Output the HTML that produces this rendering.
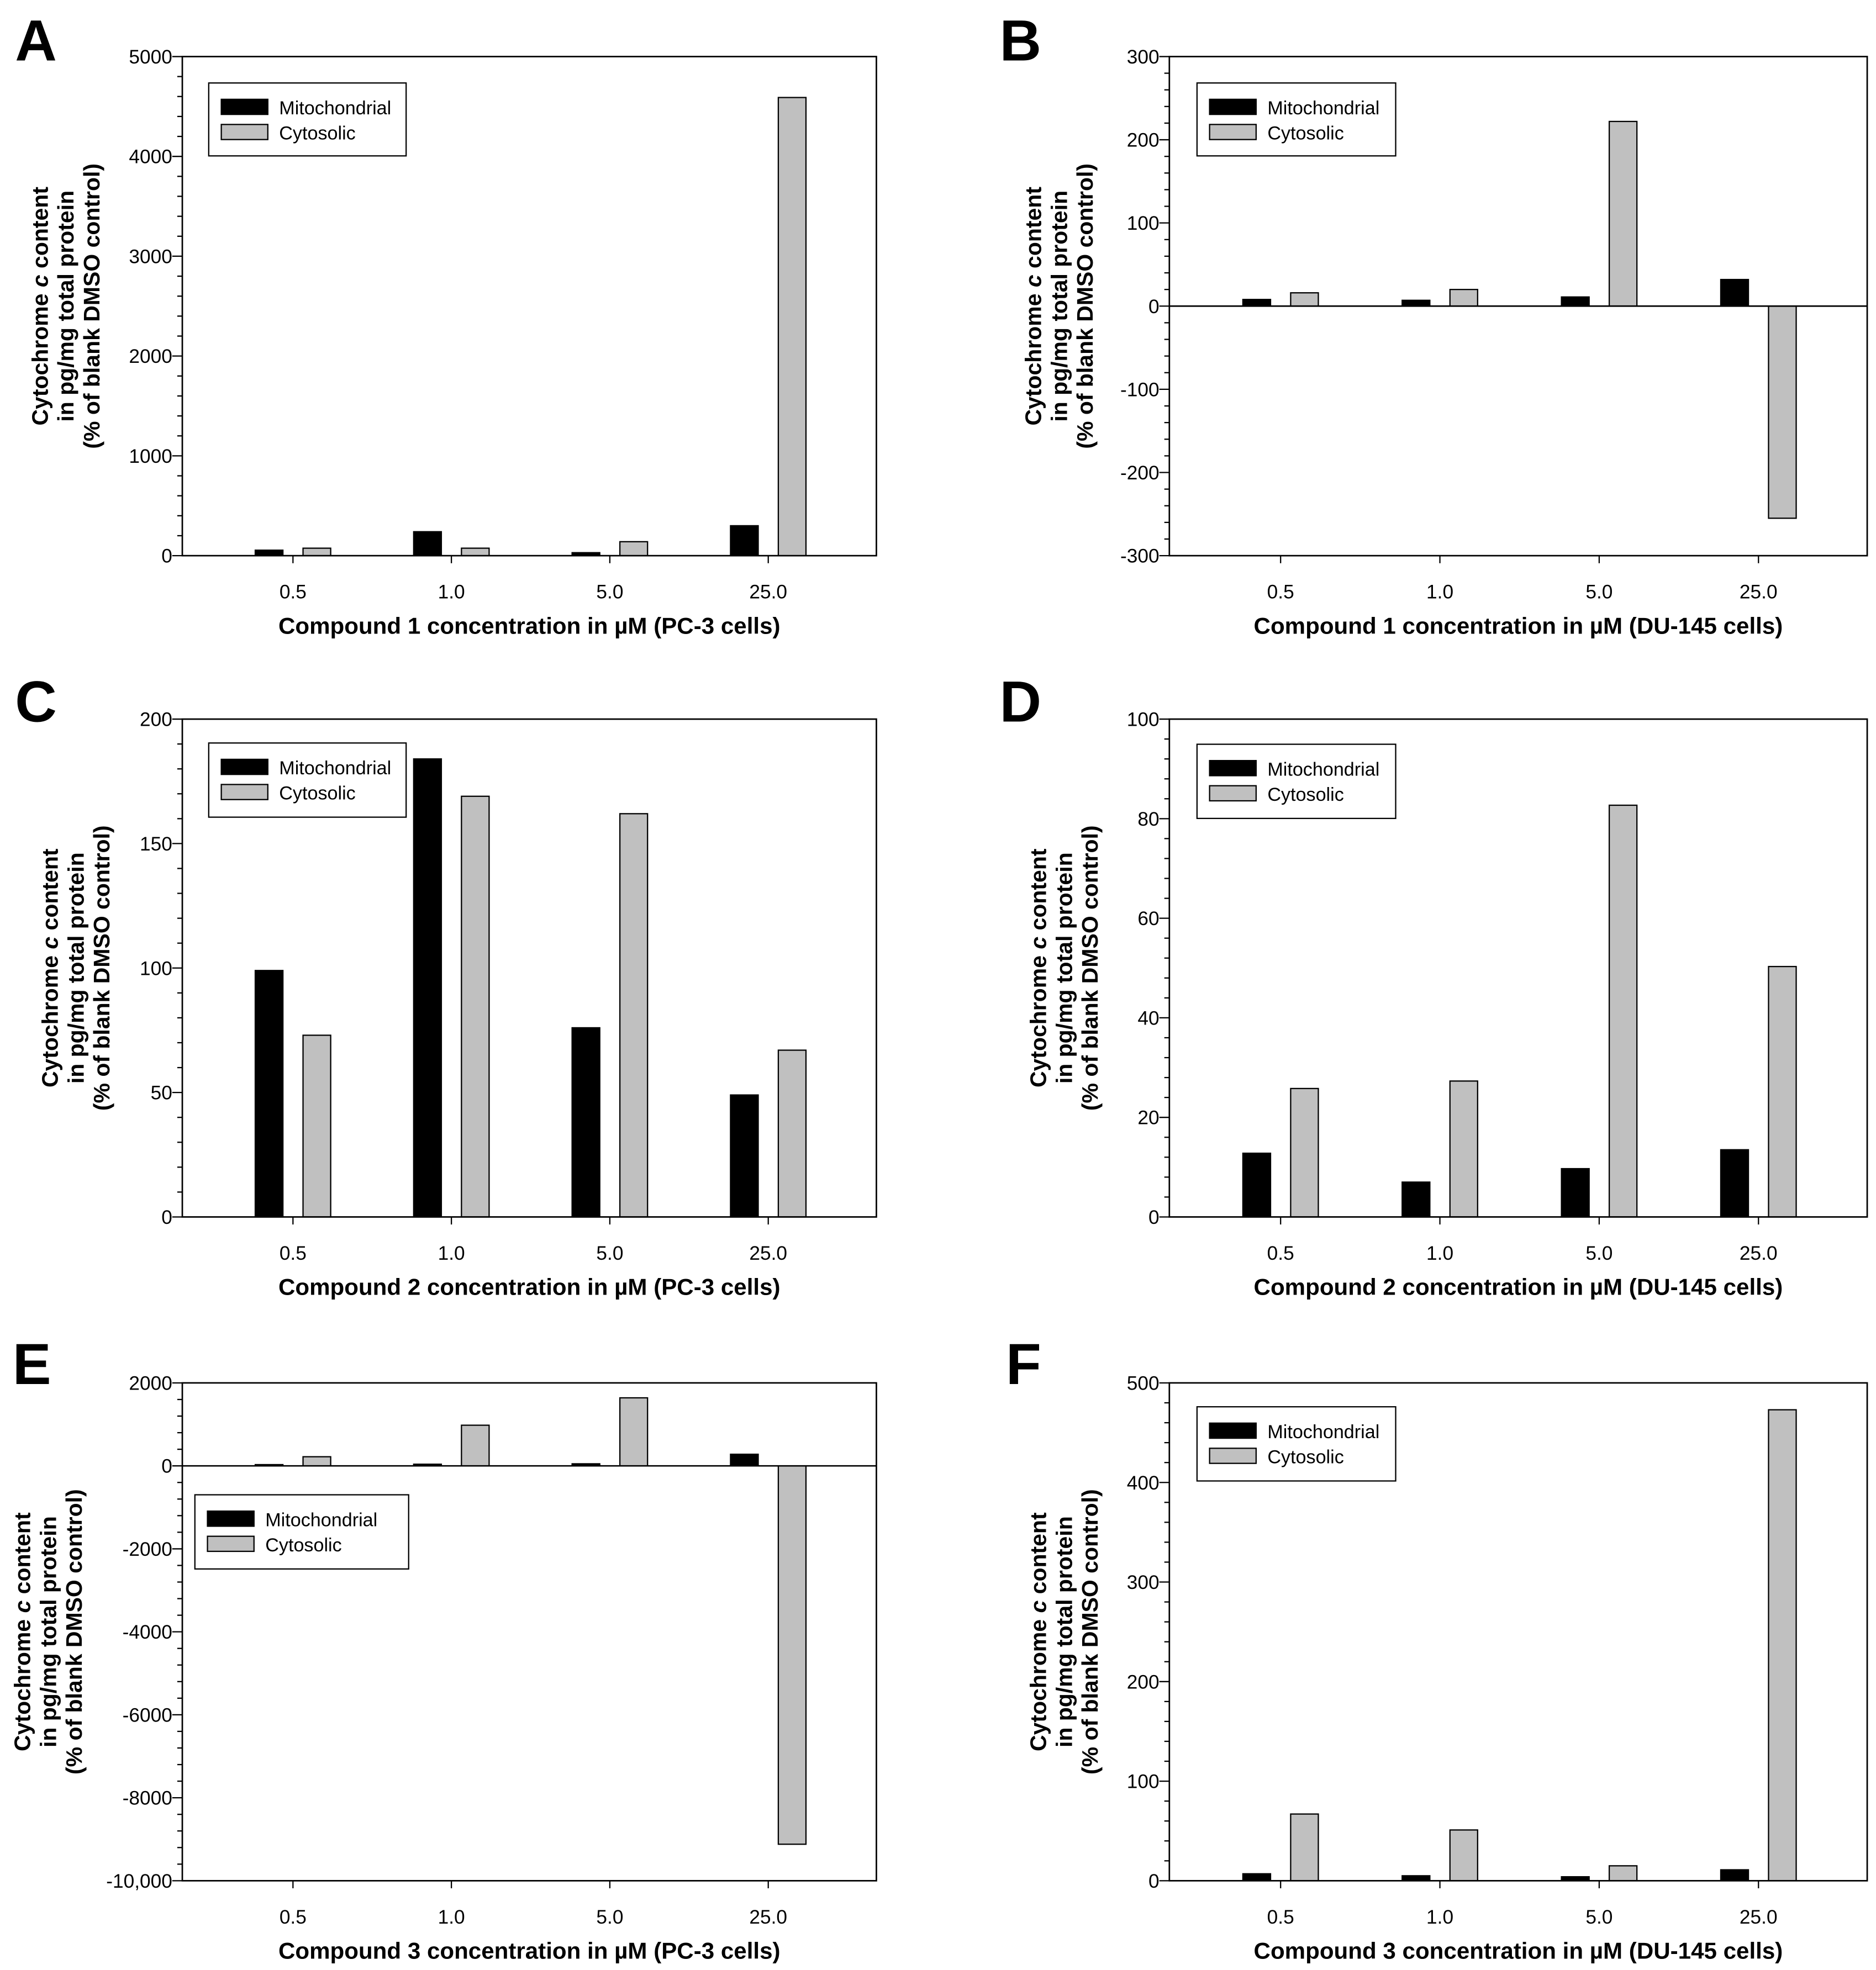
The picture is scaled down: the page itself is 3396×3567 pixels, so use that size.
<!DOCTYPE html>
<html><head><meta charset="utf-8"><style>
html,body{margin:0;padding:0;background:#fff}
svg{display:block}
text{font-family:"Liberation Sans",sans-serif}
</style></head><body>
<svg id="fig" width="3396" height="3567" viewBox="0 0 1492 1567" preserveAspectRatio="none" xmlns="http://www.w3.org/2000/svg"></svg>
<script>
const categories = ["0.5","1.0","5.0","25.0"];
const mitoA = [55,240,30,300];
const cytoA = [75,75,140,4590];
const mitoB = [8,7,11,32];
const cytoB = [16,20,222,-255];
const mitoC = [99,184,76,49];
const cytoC = [73,169,162,67];
const mitoD = [12.8,7,9.7,13.5];
const cytoD = [25.8,27.3,82.7,50.3];
const mitoE = [30,40,50,280];
const cytoE = [220,980,1640,-9120];
const mitoF = [7,5,4,11];
const cytoF = [67,51,15,473];
const ticksA = [0,1000,2000,3000,4000,5000];
const ticksB = [-300,-200,-100,0,100,200,300];
const ticksC = [0,50,100,150,200];
const ticksD = [0,20,40,60,80,100];
const ticksE = [-10000,-8000,-6000,-4000,-2000,0,2000];
const ticksF = [0,100,200,300,400,500];
const tickLabelsE = ["-10,000","-8000","-6000","-4000","-2000","0","2000"];

const NS="http://www.w3.org/2000/svg";
const svg=document.getElementById('fig');
function mk(tag,attrs,parent,txt){const e=document.createElementNS(NS,tag);for(const k in attrs)e.setAttribute(k,attrs[k]);if(txt!==undefined)e.textContent=txt;(parent||svg).appendChild(e);return e;}

const panels=[
 {id:'a',letter:'A',lx:12,ly:48,x0:145,x1:697,y0:45,y1:442,ticks:ticksA,mito:mitoA,cyto:cytoA,leg:[166,66,157,58],ylx:32,title:'Compound 1 concentration in µM (PC-3 cells)'},
 {id:'b',letter:'B',lx:795,ly:48,x0:930,x1:1485,y0:45,y1:442,ticks:ticksB,mito:mitoB,cyto:cytoB,leg:[952,66,158,58],ylx:822,title:'Compound 1 concentration in µM (DU-145 cells)'},
 {id:'c',letter:'C',lx:12,ly:574,x0:145,x1:697,y0:572,y1:968,ticks:ticksC,mito:mitoC,cyto:cytoC,leg:[166,591,157,59],ylx:40,title:'Compound 2 concentration in µM (PC-3 cells)'},
 {id:'d',letter:'D',lx:795,ly:574,x0:930,x1:1485,y0:572,y1:968,ticks:ticksD,mito:mitoD,cyto:cytoD,leg:[952,592,158,59],ylx:826,title:'Compound 2 concentration in µM (DU-145 cells)'},
 {id:'e',letter:'E',lx:10,ly:1101,x0:145,x1:697,y0:1100,y1:1496,ticks:ticksE,labels:tickLabelsE,mito:mitoE,cyto:cytoE,leg:[155,1189,170,59],ylx:18,title:'Compound 3 concentration in µM (PC-3 cells)'},
 {id:'f',letter:'F',lx:800,ly:1101,x0:930,x1:1485,y0:1100,y1:1496,ticks:ticksF,mito:mitoF,cyto:cytoF,leg:[952,1119,158,59],ylx:826,title:'Compound 3 concentration in µM (DU-145 cells)'}
];

panels.forEach(p=>{
 const g=mk('g',{});
 
 
 const lo=p.ticks[0],hi=p.ticks[p.ticks.length-1];
 const y=v=>p.y1-(v-lo)/(hi-lo)*(p.y1-p.y0);
 const w=p.x1-p.x0;
 const cx=i=>p.x0+88*(w/552)+i*126*(w/552);
 const L=mk('text',{x:p.lx,y:p.ly,'font-size':46,'font-weight':'bold'},g,p.letter);
 
 
 const step=p.ticks[1]-p.ticks[0];
 for(let v=lo;v<=hi+1e-9;v+=step/5){
  const maj=Math.abs(((v-lo)/step)-Math.round((v-lo)/step))<1e-6;
  mk('line',{x1:p.x0-(maj?8:4),x2:p.x0,y1:y(v),y2:y(v),stroke:'#000','stroke-width':1},g);
 }
 p.ticks.forEach((v,i)=>{
  const t=mk('text',{x:p.x0-8,y:y(v)+5.5,'font-size':15.5,'text-anchor':'end'},g,p.labels?p.labels[i]:String(v));
  
  
 });
 const z=y(Math.max(lo,0));
 categories.forEach((c,i)=>{
  const x=cx(i);
  [[p.mito[i],'#000',-30,'mito'],[p.cyto[i],'#c0c0c0',8,'cyto']].forEach(([v,col,off,n])=>{
   const yy=y(v);
   const r=mk('rect',{x:x+off,y:Math.min(yy,z),width:22,height:Math.abs(z-yy),fill:col,stroke:'#000','stroke-width':1},g);
   
   
  });
  mk('line',{x1:x,x2:x,y1:p.y1,y2:p.y1+6,stroke:'#000','stroke-width':1},g);
  const t=mk('text',{x:x,y:p.y1+34,'font-size':15.5,'text-anchor':'middle'},g,c);
  
  
 });
 if(lo<0) mk('line',{x1:p.x0,x2:p.x1,y1:z,y2:z,stroke:'#000','stroke-width':1.2},g);
 const box=mk('rect',{x:p.x0,y:p.y0,width:w,height:p.y1-p.y0,fill:'none',stroke:'#000','stroke-width':1.2},g);
 
 
 const [lx,ly,lw,lh]=p.leg;
 const lg=mk('g',{},g);
 
 
 mk('rect',{x:lx,y:ly,width:lw,height:lh,fill:'#fff',stroke:'#000','stroke-width':1},lg);
 mk('rect',{x:lx+10,y:ly+13,width:37,height:12,fill:'#000',stroke:'#000'},lg);
 mk('rect',{x:lx+10,y:ly+33,width:37,height:12,fill:'#c0c0c0',stroke:'#000'},lg);
 mk('text',{x:lx+56,y:ly+25,'font-size':15},lg,'Mitochondrial');
 mk('text',{x:lx+56,y:ly+45,'font-size':15},lg,'Cytosolic');
 const xt=mk('text',{x:(p.x0+p.x1)/2,y:p.y1+62,'font-size':18.5,'font-weight':'bold','text-anchor':'middle'},g,p.title);
 
 
 const cy=(p.y0+p.y1)/2;
 const yt=mk('text',{transform:`translate(${p.ylx+6},${cy}) rotate(-90)`,'font-size':18,'font-weight':'bold','text-anchor':'middle'},g);
 
 
 mk('tspan',{x:0,y:0},yt,'Cytochrome ');
 mk('tspan',{'font-style':'italic'},yt,'c');
 mk('tspan',{},yt,' content');
 mk('tspan',{x:0,y:20.5},yt,'in pg/mg total protein');
 mk('tspan',{x:0,y:41},yt,'(% of blank DMSO control)');
});
</script>
</body></html>
